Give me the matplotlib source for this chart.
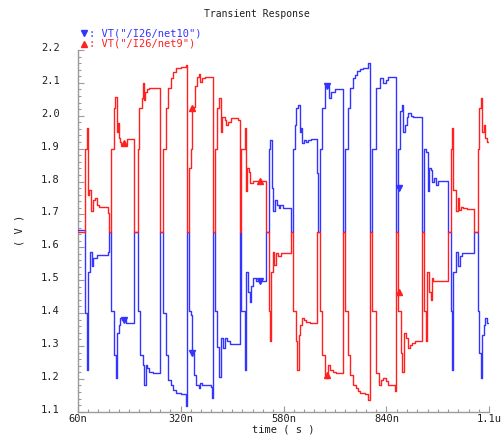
import matplotlib
matplotlib.use('Agg')
import matplotlib.pyplot as plt
from matplotlib.lines import Line2D
from matplotlib.ticker import FixedLocator
from matplotlib.transforms import ScaledTranslation
import numpy as np

# step breakpoints (time in ns, value in V)
# net9 (red)
red_t = [60, 78.4, 83.5, 86.0, 89.4, 93.6, 97.8, 103.7, 107.9, 114.6, 135.6, 139.8,
         144.1, 152.5, 155.0, 158.4, 160.9, 163.4, 167.6, 170.1, 183.6, 203.0,
         211.4, 215.6, 221.5, 225.7, 228.2, 230.7, 234.9, 240.8, 267.7,
         276.1, 282.9, 287.1, 295.5, 299.7, 308.1, 321.6, 334.2, 335.9,
         341.0, 345.2, 348.5, 353.6, 357.0, 362.0, 366.2, 369.6, 373.8, 380.5, 397.3, 401.6,
         405.8, 412.5, 416.7, 420.9, 425.1, 431.0, 435.2, 439.4, 447.8, 464.7, 468.9,
         471.4, 481.5, 484.0, 487.4, 492.4, 496.6, 502.5, 536.2,
         542.1, 546.3, 548.8, 553.0, 557.2, 561.4, 565.6, 574.0, 600.1,
         604.4, 611.1, 615.3, 619.5, 622.9, 627.1, 631.3, 638.0, 646.4, 664.9,
         671.7, 678.4, 684.3, 688.5, 692.7, 696.9, 705.3, 713.7, 730.6,
         736.5, 743.2, 749.1, 755.8, 762.5, 768.4, 774.3, 785.3, 793.7, 797.9,
         803.8, 814.7, 821.4, 827.3, 832.3, 838.2, 844.9, 861.8, 863.4,
         870.2, 876.9, 880.3, 884.5, 888.7, 893.7, 899.6, 903.8, 912.2, 929.1,
         935.8, 940.0, 943.4, 947.6, 951.8, 954.3, 958.5, 971.1, 996.4,
         1003.1, 1006.5, 1009.0, 1014.9, 1019.9, 1023.3, 1027.5, 1034.2, 1042.7, 1062.0,
         1070.4, 1073.8, 1078.8, 1082.2, 1085.6, 1088.9, 1093.1, 1100]
red_v = [1.648, 1.898, 1.962, 1.759, 1.775, 1.709, 1.744, 1.749, 1.729, 1.722, 1.704, 1.648,
         1.898, 2.023, 2.058, 1.952, 1.977, 1.932, 1.921, 1.911, 1.929, 1.648,
         1.898, 2.023, 2.053, 2.099, 2.048, 2.073, 2.081, 2.084, 1.648,
         1.898, 2.023, 2.084, 2.116, 2.134, 2.144, 2.149, 2.154, 1.648,
         1.840, 1.898, 2.023, 2.028, 2.089, 2.119, 2.126, 2.104, 2.114, 2.117, 2.119, 1.648,
         1.898, 2.023, 2.053, 1.952, 1.997, 1.987, 1.972, 1.982, 1.992, 1.987, 1.648,
         1.898, 1.962, 1.770, 1.840, 1.830, 1.795, 1.802, 1.648,
         1.405, 1.314, 1.526, 1.587, 1.547, 1.582, 1.572, 1.582, 1.648,
         1.405, 1.314, 1.227, 1.334, 1.364, 1.384, 1.379, 1.374, 1.371, 1.648,
         1.405, 1.273, 1.212, 1.202, 1.243, 1.227, 1.222, 1.217, 1.648,
         1.405, 1.273, 1.212, 1.182, 1.172, 1.162, 1.157, 1.153, 1.136, 1.648,
         1.405, 1.217, 1.182, 1.197, 1.202, 1.192, 1.182, 1.162, 1.648,
         1.405, 1.278, 1.222, 1.339, 1.324, 1.293, 1.303, 1.308, 1.314, 1.648,
         1.405, 1.314, 1.526, 1.465, 1.440, 1.506, 1.496, 1.499, 1.648,
         1.898, 1.962, 1.775, 1.709, 1.749, 1.714, 1.724, 1.719, 1.716, 1.648,
         1.898, 2.023, 2.055, 1.952, 1.972, 1.932, 1.921, 1.921]

# net10 (blue)
blue_t = [60, 78.4, 83.5, 86.0, 91.0, 95.2, 99.5, 107.9, 135.6, 139.8,
          144.1, 152.5, 156.7, 159.2, 163.4, 167.6, 171.8, 181.9, 203.0,
          211.4, 217.3, 224.0, 228.2, 231.6, 235.8, 240.8, 250.9, 267.7,
          276.1, 282.9, 287.1, 295.5, 299.7, 308.1, 321.6, 334.2, 335.9,
          341.0, 345.2, 348.5, 353.6, 359.5, 365.4, 369.6, 373.8, 397.3, 399.9, 401.6,
          405.8, 412.5, 416.7, 420.9, 426.8, 431.0, 437.7, 443.6, 468.9,
          473.1, 481.5, 485.7, 489.9, 494.1, 498.3, 502.5, 510.9, 536.2,
          542.1, 546.3, 550.5, 554.7, 558.9, 563.1, 568.1, 570.7, 579.1, 600.1,
          604.4, 608.6, 612.8, 617.0, 621.2, 623.7, 627.9, 631.3, 636.3, 642.2, 650.6, 664.9, 667.5,
          671.7, 678.4, 684.3, 695.2, 701.1, 709.5, 730.6,
          736.5, 743.2, 747.4, 755.8, 760.0, 765.9, 772.6, 781.1, 793.7, 797.9,
          803.8, 814.7, 823.1, 832.3, 838.2, 844.9, 863.4,
          870.2, 874.4, 878.6, 882.8, 887.0, 891.2, 895.4, 902.1, 908.0, 929.1,
          935.8, 940.0, 944.2, 948.4, 952.6, 956.0, 960.2, 965.2, 971.1, 996.4,
          1003.1, 1006.5, 1009.0, 1014.9, 1019.9, 1025.8, 1030.0, 1062.0,
          1070.4, 1073.8, 1078.8, 1082.2, 1085.6, 1088.9, 1093.1, 1100]
blue_v = [1.652, 1.400, 1.227, 1.526, 1.587, 1.542, 1.567, 1.577, 1.587, 1.648,
          1.405, 1.273, 1.202, 1.339, 1.364, 1.384, 1.379, 1.371, 1.648,
          1.405, 1.273, 1.243, 1.182, 1.243, 1.233, 1.222, 1.217, 1.648,
          1.400, 1.273, 1.197, 1.182, 1.165, 1.156, 1.153, 1.116, 1.648,
          1.405, 1.395, 1.278, 1.212, 1.182, 1.172, 1.187, 1.182, 1.174, 1.141, 1.648,
          1.405, 1.298, 1.207, 1.324, 1.293, 1.324, 1.314, 1.306, 1.648,
          1.405, 1.227, 1.526, 1.465, 1.435, 1.481, 1.506, 1.496, 1.648,
          1.898, 1.926, 1.780, 1.709, 1.744, 1.729, 1.719, 1.729, 1.719, 1.648,
          1.898, 1.972, 2.023, 2.033, 1.952, 1.962, 1.916, 1.926, 1.921, 1.926, 1.930, 1.825, 1.648,
          1.898, 2.023, 2.089, 2.053, 2.073, 2.081, 1.648,
          1.898, 2.023, 2.084, 2.114, 2.124, 2.136, 2.142, 2.146, 2.160, 1.648,
          1.898, 2.084, 2.114, 2.099, 2.109, 2.117, 1.648,
          1.898, 2.013, 2.033, 1.952, 1.972, 1.997, 2.008, 2.000, 1.995, 1.648,
          1.898, 1.891, 1.770, 1.840, 1.835, 1.800, 1.810, 1.790, 1.802, 1.648,
          1.405, 1.227, 1.526, 1.587, 1.542, 1.572, 1.582, 1.648,
          1.405, 1.278, 1.202, 1.334, 1.364, 1.384, 1.369, 1.369]

# trace markers
marker_t = [177, 349, 520, 691, 871]
blue_marker_v = [1.379, 1.278, 1.496, 2.089, 1.780]
red_marker_v = [1.916, 2.025, 1.802, 1.212, 1.465]

x_ticks = [60, 320, 580, 840, 1100]
x_labels = ['60n', '320n', '580n', '840n', '1.1u']
y_ticks = [1.1, 1.2, 1.3, 1.4, 1.5, 1.6, 1.7, 1.8, 1.9, 2.0, 2.1, 2.2]

BLUE = '#3434ff'
RED = '#ff2020'
AXIS_GREY = '#9a9a9a'
TXT = '#202020'
FONT = 'DejaVu Sans Mono'

plt.rcParams['font.family'] = FONT

fig = plt.figure(figsize=(5.04, 4.38), dpi=100)
W, H = 504.0, 438.0
ax = fig.add_axes([77.7 / W, 1 - 411.7 / H, (489.3 - 77.7) / W, (411.7 - 50) / H])

ax.step(blue_t, blue_v, where='post', color=BLUE, lw=1.0, zorder=3)
ax.step(red_t, red_v, where='post', color=RED, lw=1.0, zorder=4)
ax.plot(marker_t, blue_marker_v, 'v', color=BLUE, ms=4, ls='none', zorder=5)
ax.plot(marker_t, red_marker_v, '^', color=RED, ms=4, ls='none', zorder=5)

ax.set_xlim(60, 1100)
ax.set_ylim(1.1, 2.2)

for side in ['top', 'right']:
    ax.spines[side].set_visible(False)
for side in ['left', 'bottom']:
    ax.spines[side].set_color(AXIS_GREY)
    ax.spines[side].set_linewidth(1.0)

ax.xaxis.set_major_locator(FixedLocator(x_ticks))
ax.set_xticklabels(x_labels)
ax.xaxis.set_minor_locator(FixedLocator(np.arange(60, 1101, 26)))
ax.yaxis.set_major_locator(FixedLocator(y_ticks))
ax.set_yticklabels(['%.1f' % v for v in y_ticks])
ax.yaxis.set_minor_locator(FixedLocator(np.arange(1.1, 2.201, 0.02)))

ax.tick_params(which='both', direction='in', color=AXIS_GREY, width=0.8, labelcolor=TXT,
               labelsize=7.5)
ax.tick_params(which='major', length=4.5)
ax.tick_params(which='minor', length=2.5)
ax.tick_params(axis='y', pad=13)
ax.tick_params(axis='x', pad=1.5)

# y labels sit a little above their ticks
up = ScaledTranslation(0, 3 / 100.0, fig.dpi_scale_trans)
for lab in ax.get_yticklabels():
    lab.set_transform(lab.get_transform() + up)

fig.text(204 / W, 1 - 14 / H, 'Transient Response', fontsize=7, color=TXT, ha='left', va='center')
fig.text(283.5 / W, 1 - 430 / H, 'time ( s )', fontsize=7.5, color=TXT, ha='center', va='center')
fig.text(20 / W, 1 - 230 / H, '( V )', fontsize=7.5, color=TXT, ha='center', va='center',
         rotation=90)

# legend
fig.add_artist(Line2D([84 / W], [1 - 33 / H], marker='v', color=BLUE, ms=4, ls='none',
                      transform=fig.transFigure))
fig.add_artist(Line2D([84 / W], [1 - 44 / H], marker='^', color=RED, ms=4, ls='none',
                      transform=fig.transFigure))
fig.text(89 / W, 1 - 33 / H, ': VT("/I26/net10")', fontsize=7.5, color=BLUE, ha='left', va='center')
fig.text(89 / W, 1 - 44 / H, ': VT("/I26/net9")', fontsize=7.5, color=RED, ha='left', va='center')

fig.savefig('out.png', dpi=100, facecolor='white')
